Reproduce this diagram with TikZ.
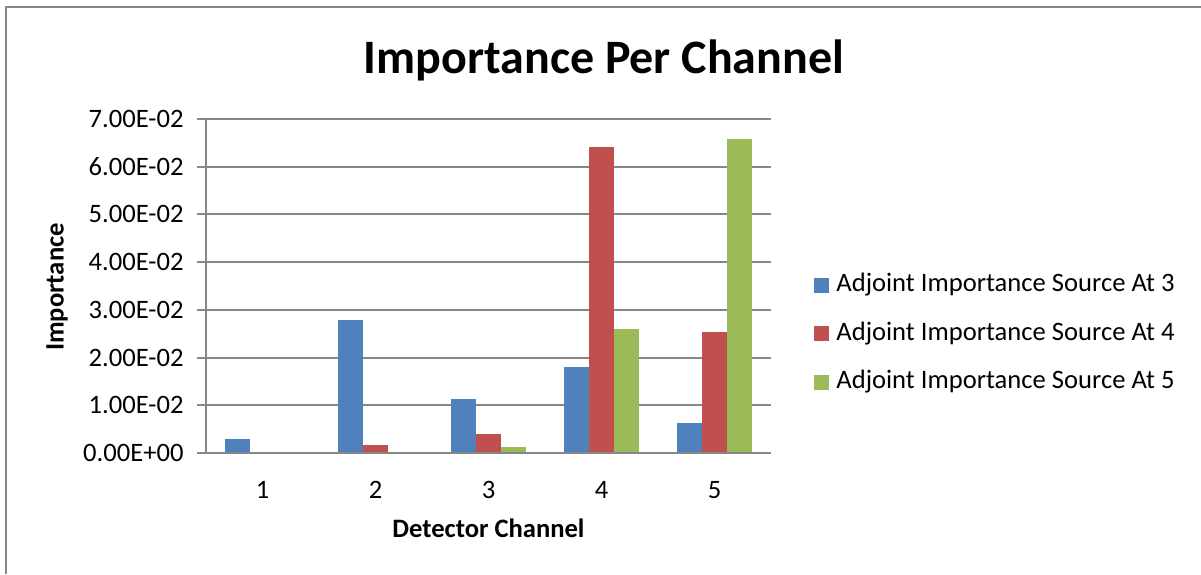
\documentclass[tikz,border=0pt]{standalone}
\usepackage{fontspec}
\setmainfont{Carlito}
\definecolor{serblue}{HTML}{4F81BD}
\definecolor{serred}{HTML}{C0504D}
\definecolor{sergreen}{HTML}{9BBB59}
\definecolor{gridgray}{HTML}{878787}
\begin{document}
\begin{tikzpicture}[x=0.5pt,y=-0.5pt,
grid line/.style={gridgray,line width=1pt},
tick label/.style={inner sep=0pt,font=\fontsize{13.3}{16}\selectfont},
axis title/.style={inner sep=0pt,font=\fontsize{13.3}{16}\selectfont\bfseries},
bar/.style={fill=#1,draw=none}
]
\useasboundingbox (0,0) rectangle (1201,574);
\fill[white] (0,0) rectangle (1201,574);
% chart frame
\draw[gridgray,line width=1pt] (6,574) -- (6,7) -- (1201,7);
\node[inner sep=0pt,font=\fontsize{24}{28}\selectfont\bfseries] (title) at (604,60) {Importance Per Channel};
% value axis with grid
\foreach \i in {0,...,7}{
  \pgfmathsetmacro{\gy}{453-47.714*\i}
  \draw[grid line] (197,\gy) -- (771,\gy);
  \ifnum\i=0
    \node[tick label,anchor=east] (ylab\i) at (184,\gy) {0.00E+00};
  \else
    \node[tick label,anchor=east] (ylab\i) at (184,\gy) {\i.00E-02};
  \fi
}
\draw[grid line] (206,119) -- (206,453);
% bars: channel / source 3 / source 4 / source 5
\foreach \c/\va/\vb/\vc in {1/0.0030/0.0002/0.0000, 2/0.0279/0.0017/0.0002,
  3/0.0113/0.0040/0.0012, 4/0.0180/0.0641/0.0260, 5/0.0062/0.0254/0.0658}{
  \pgfmathsetmacro{\cx}{206+113*(\c-0.5)}
  \fill[bar=serblue] (\cx-37.5,453) rectangle (\cx-12.5,453-4771.4*\va);
  \fill[bar=serred] (\cx-12.5,453) rectangle (\cx+12.5,453-4771.4*\vb);
  \fill[bar=sergreen] (\cx+12.5,453) rectangle (\cx+37.5,453-4771.4*\vc);
  \node[tick label] (xlab\c) at (\cx,490) {\c};
}
\draw[grid line] (197,453) -- (771,453);
% axis titles
\node[axis title] (xtitle) at (488.5,528) {Detector Channel};
\node[axis title,rotate=90] (ytitle) at (57,287) {Importance};
% legend
\foreach \s/\col/\ly in {3/serblue/285, 4/serred/333.5, 5/sergreen/382}{
  \fill[\col] (814,\ly-7.5) rectangle (829,\ly+7.5);
  \node[tick label,anchor=west] (leg\s) at (836,\ly) {Adjoint Importance Source At \s};
}
\end{tikzpicture}
\end{document}
